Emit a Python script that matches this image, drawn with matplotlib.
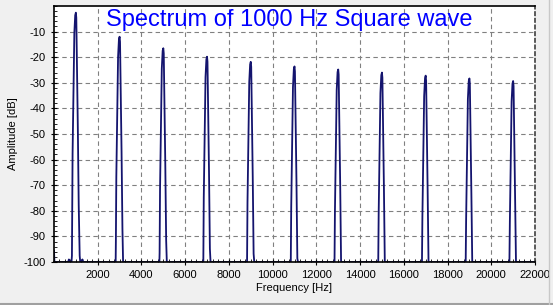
import matplotlib.pyplot as plt
from matplotlib.lines import Line2D
from matplotlib.ticker import MultipleLocator
import numpy as np

# harmonic frequencies [Hz] and peak levels [dB]
peak_freqs = [1000, 3000, 5000, 7000, 9000, 11000, 13000, 15000, 17000, 19000, 21000]
peak_db = [-2.6, -12.0, -16.5, -19.8, -21.8, -23.6, -24.8, -26.0, -27.2, -28.3, -29.3]

# shape of one peak: offset from centre [Hz], drop below peak [dB]
shape_offset = [-200, -180, -170, -150, -110, -70, -30, 0, 20, 50, 90, 130, 160, 175, 200]
shape_drop = [110, 95, 80, 55, 30, 8, 1, 0, 2, 20, 45, 75, 88, 95, 110]

# small noise bits near DC
noise_freq = [0, 0, 20, 650, 680, 700, 1280, 1300, 1330]
noise_db = [-100, -95.5, -100, -100, -99, -100, -100, -99, -100]

floor_db = -100

freq = [0]
amp = [floor_db]
freq += noise_freq
amp += noise_db
for f0, p in zip(peak_freqs, peak_db):
    for off, d in zip(shape_offset, shape_drop):
        freq.append(f0 + off)
        amp.append(max(p - d, floor_db))
freq.append(22000)
amp.append(floor_db)
order = np.argsort(freq, kind='stable')
freq = np.array(freq)[order]
amp = np.array(amp)[order]

plt.rcParams['font.family'] = ['Liberation Sans', 'DejaVu Sans']
plt.rcParams['axes.unicode_minus'] = False

fig = plt.figure(figsize=(5.53, 3.05), dpi=100, facecolor='#f0f0f0')
ax = fig.add_axes([54 / 553, 1 - 262 / 305, (535 - 54) / 553, (262 - 6) / 305])
ax.set_facecolor('white')
ax.plot(freq, amp, color='#14146e', linewidth=1.3)

ax.set_xlim(0, 22000)
ax.set_ylim(-100, 0)
ax.set_xticks(range(2000, 22001, 2000))
ax.set_yticks(range(-100, -9, 10))
ax.xaxis.set_minor_locator(MultipleLocator(250))
ax.yaxis.set_minor_locator(MultipleLocator(2))
ax.tick_params(which='major', direction='inout', length=5, labelsize=8, width=0.8)
ax.tick_params(which='minor', direction='in', length=2.5, width=0.6)
ax.grid(True, which='major', linestyle=(0, (4, 3)), color='#808080', linewidth=0.8)

for s in ax.spines.values():
    s.set_linewidth(1.2)
    s.set_color('black')
ax.spines['right'].set_linestyle((0, (2, 2)))
ax.spines['right'].set_color('#404040')

ax.set_xlabel('Frequency [Hz]', fontsize=8, labelpad=2)
ax.set_ylabel('Amplitude [dB]', fontsize=8, labelpad=4)
ax.text(0.49, 0.988, 'Spectrum of 1000 Hz Square wave', transform=ax.transAxes,
        ha='center', va='top', color='#0000ff', fontsize=17)

fig.add_artist(Line2D([0, 1], [1 / 305, 1 / 305], color='#a0a0a0', linewidth=1.5))
fig.add_artist(Line2D([549 / 553, 549 / 553], [0, 1], color='#c8c8c8', linewidth=1))

fig.savefig('out.png', dpi=100, facecolor=fig.get_facecolor())
